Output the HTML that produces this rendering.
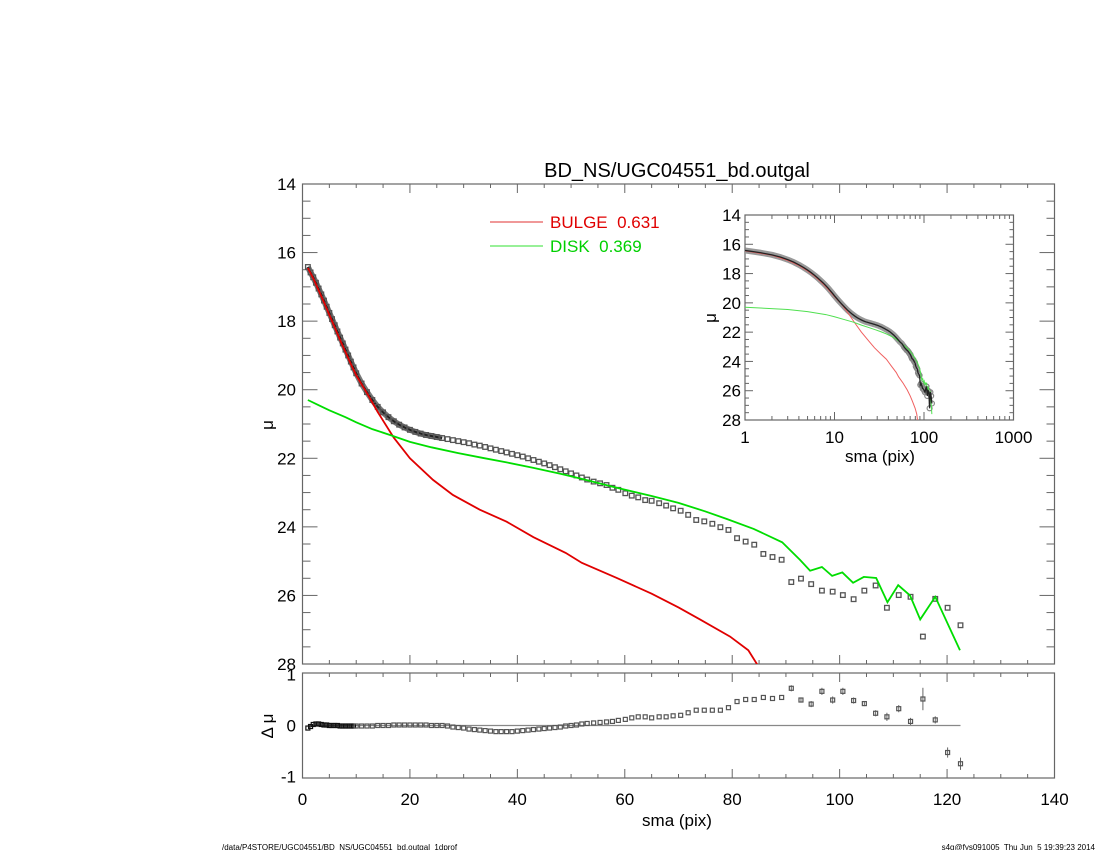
<!DOCTYPE html>
<html><head><meta charset="utf-8"><style>
body{margin:0;background:#fff;}
svg{display:block;font-family:"Liberation Sans",sans-serif;}
.pre{white-space:pre;}
</style></head><body>
<svg id="c" width="1100" height="850" viewBox="0 0 1100 850"></svg>
<script>
// ---- data ----
const dataSma=[1,1.5,2,2.5,3,3.5,4,4.5,5,5.5,6,6.5,7,7.5,8,8.5,9,9.5,10,11,12,13,14,15,16,17,18,19,20,21,22,23,24,25,26,27,28,29,30,31,32,33,34,35,36,37,38,39,40,41,42,43,44,45,46,47,48,49,50,51,52,53,54.2,
55.4,56.6,57.7,58.8,60.1,61.3,62.5,63.8,65.0,66.4,67.7,69.0,70.4,71.8,73.3,74.8,76.3,77.8,79.3,80.9,
82.5,84.1,85.8,87.5,89.2,91.0,92.8,94.7,96.7,98.7,100.6,102.6,104.6,106.7,108.8,111.0,113.2,115.5,117.8,120.1,122.5];
const dataMu=[16.42,16.58,16.72,16.88,17.05,17.22,17.4,17.58,17.76,17.94,18.12,18.3,18.48,18.65,18.83,19.0,19.18,19.35,19.52,19.82,20.07,20.3,20.5,20.66,20.8,20.92,21.02,21.1,21.17,21.23,21.28,21.32,21.35,21.38,21.41,21.44,21.47,21.5,21.53,21.56,21.6,21.63,21.67,21.71,21.75,21.79,21.83,21.87,21.91,21.95,22.0,22.05,22.1,22.15,22.2,22.26,22.32,22.38,22.44,22.5,22.56,22.62,22.68,
22.73,22.78,22.86,22.92,23.02,23.09,23.14,23.22,23.24,23.31,23.38,23.46,23.53,23.65,23.80,23.84,23.91,24.01,24.09,24.33,
24.43,24.52,24.79,24.88,24.96,25.61,25.51,25.67,25.86,25.89,25.99,26.11,25.86,25.71,26.36,25.99,26.04,27.20,26.10,26.36,26.87];
const resid=[-0.05,-0.02,0.02,0.03,0.03,0.02,0.01,0.01,0,0,0,0,-0.01,-0.01,-0.01,-0.01,-0.01,-0.01,-0.01,-0.01,-0.01,-0.01,0,0,0,0.01,0.01,0.01,0.01,0.01,0.01,0.01,0,0,0,-0.01,-0.03,-0.04,-0.05,-0.07,-0.08,-0.09,-0.1,-0.11,-0.12,-0.12,-0.12,-0.12,-0.11,-0.1,-0.09,-0.08,-0.07,-0.06,-0.05,-0.04,-0.03,-0.01,0,0.01,0.03,0.04,0.05,
0.06,0.07,0.08,0.1,0.12,0.15,0.17,0.17,0.15,0.17,0.17,0.19,0.2,0.25,0.3,0.3,0.3,0.3,0.35,0.47,
0.51,0.51,0.55,0.53,0.55,0.73,0.50,0.42,0.67,0.50,0.67,0.49,0.43,0.24,0.17,0.33,0.08,0.52,0.11,-0.53,-0.75];
const residErr=[0,0,0,0,0,0.06,0.05,0.06,0.07,0.07,0.07,0.06,0.05,0.06,0.08,0.07,0.07,0.22,0.07,0.1,0.12];
const bulgeSma=[1,2,3,4,5,6,7,8,9,10,12,14,17,20,24.3,28,33,38,43,49,52,58.5,65,70,74,79.6,83,85];
const bulgeMu=[16.45,16.75,17.1,17.45,17.82,18.18,18.55,18.9,19.25,19.58,20.1,20.65,21.4,22.0,22.63,23.07,23.5,23.85,24.3,24.76,25.05,25.49,25.95,26.35,26.7,27.2,27.6,28.1];
const diskSma=[1,3,5,8,10,13,16.3,20,24,29,33.6,38,43,48,52,58.5,65,70,75,79,84,89.3,92.6,94.5,96.7,98.6,100.5,102.5,104.5,106.8,108.9,110.9,113.1,115,117.8,122.4];
const diskMu=[20.3,20.45,20.6,20.8,20.95,21.15,21.32,21.52,21.68,21.85,21.99,22.12,22.28,22.45,22.6,22.86,23.1,23.3,23.55,23.77,24.06,24.45,24.96,25.28,25.17,25.43,25.33,25.63,25.46,25.49,26.2,25.7,26.0,26.7,26.04,27.6];
const xTicks=[0,20,40,60,80,100,120,140];
const yTicks=[14,16,18,20,22,24,26,28];
const resTicks=[1,0,-1];
const insetXTicks=[1,10,100,1000];
</script>
<script>
const svg=document.getElementById('c');
const NS='http://www.w3.org/2000/svg';
function mk(tag,attrs,parent){const e=document.createElementNS(NS,tag);for(const k in attrs)e.setAttribute(k,attrs[k]);(parent||svg).appendChild(e);return e;}
function txt(s,x,y,size,anchor,fill,parent){const t=mk('text',{x:x,y:y,'font-size':size,'text-anchor':anchor||'middle',fill:fill||'#000'},parent);t.textContent=s;return t;}
const X0=302.5,X1=1054.5;
const sx=v=>X0+(v-0)/140*(X1-X0);
const MT=184,MB=664;
const sy=v=>MT+(v-14)/14*(MB-MT);
const RT=673,RB=778;
const sr=v=>(RT+RB)/2-v*(RB-RT)/2.06;
const IL=745,IR=1013.5,IT=215,IB=420;
const ix=v=>IL+Math.log10(v)/3*(IR-IL);
const iy=v=>IT+(v-14)/14*(IB-IT);
const FR='#666';

let t=txt('BD_NS/UGC04551_bd.outgal',677,177,20);


let g=mk('g',{});

mk('rect',{x:X0,y:MT,width:X1-X0,height:MB-MT,fill:'none',stroke:FR,'stroke-width':1.2},g);
for(let v=0;v<=140;v+=5){const maj=v%20===0,L=maj?9:4;
 mk('line',{x1:sx(v),x2:sx(v),y1:MB,y2:MB-L,stroke:FR},g);mk('line',{x1:sx(v),x2:sx(v),y1:MT,y2:MT+L,stroke:FR},g);
 mk('line',{x1:sx(v),x2:sx(v),y1:RB,y2:RB-L,stroke:FR},g);mk('line',{x1:sx(v),x2:sx(v),y1:RT,y2:RT+L,stroke:FR},g);}
for(let v=14;v<=28.01;v+=0.5){const maj=Math.abs(v%2)<1e-6,L=maj?15:8;
 mk('line',{x1:X0,x2:X0+L,y1:sy(v),y2:sy(v),stroke:FR},g);mk('line',{x1:X1,x2:X1-L,y1:sy(v),y2:sy(v),stroke:FR},g);}
yTicks.forEach(v=>{const l=txt(String(v),296,sy(v)+6,17,'end');});
t=txt('μ',268,430,17);t.setAttribute('transform','rotate(-90 268 425)');


let lg=mk('g',{});

mk('line',{x1:490,x2:543,y1:222,y2:222,stroke:'#e03030','stroke-width':1},lg);
let le=txt('BULGE  0.631',550,228,17,'start','#e00000',lg);le.setAttribute('class','pre');

mk('line',{x1:490,x2:543,y1:246,y2:246,stroke:'#30e030','stroke-width':1},lg);
le=txt('DISK  0.369',550,252,17,'start','#00d000',lg);le.setAttribute('class','pre');


const clipM=mk('clipPath',{id:'cm'});mk('rect',{x:X0,y:MT,width:X1-X0,height:MB-MT},clipM);
let ds=mk('g',{'clip-path':'url(#cm)'});

const inner=dataSma.map((s,i)=>[s,dataMu[i]]).filter(p=>p[0]<=26);
let band=mk('polyline',{points:inner.map(p=>sx(p[0])+','+sy(p[1])).join(' '),fill:'none',stroke:'#777','stroke-width':6,'stroke-linejoin':'round'},ds);

mk('polyline',{points:inner.map(p=>sx(p[0])+','+sy(p[1])).join(' '),fill:'none',stroke:'#222','stroke-width':2},ds);
dataSma.forEach((s,i)=>{const r=mk('rect',{x:sx(s)-2.3,y:sy(dataMu[i])-2.3,width:4.6,height:4.6,fill:'none',stroke:'#555','stroke-width':1.3},ds);
 });
let bl=mk('polyline',{points:bulgeSma.map((s,i)=>sx(s)+','+sy(bulgeMu[i])).join(' '),fill:'none',stroke:'#e00000','stroke-width':1.8,'clip-path':'url(#cm)'});

let dl=mk('polyline',{points:diskSma.map((s,i)=>sx(s)+','+sy(diskMu[i])).join(' '),fill:'none',stroke:'#00dd00','stroke-width':1.8,'clip-path':'url(#cm)'});


let rp=mk('g',{});

mk('rect',{x:X0,y:RT,width:X1-X0,height:RB-RT,fill:'none',stroke:FR,'stroke-width':1.2},rp);
mk('line',{x1:sx(1),x2:sx(122.5),y1:sr(0),y2:sr(0),stroke:'#888','stroke-width':1.2},rp);
resTicks.forEach(v=>{const l=txt(String(v),296,sr(v)+6,17,'end',null,rp);});
t=txt('Δ μ',268,731,17);t.setAttribute('transform','rotate(-90 268 726)');t.setAttribute('class','pre');

const off=dataSma.length-residErr.length;
dataSma.forEach((s,i)=>{const e=i>=off?residErr[i-off]:0;
 if(e>0){const b=mk('line',{x1:sx(s),x2:sx(s),y1:sr(resid[i]-e),y2:sr(resid[i]+e),stroke:'#666','stroke-width':1},rp);
  }
 const r=mk('rect',{x:sx(s)-2,y:sr(resid[i])-2,width:4,height:4,fill:'none',stroke:s<10?'#111':'#555','stroke-width':1.2},rp);
 });
xTicks.forEach(v=>{const l=txt(String(v),sx(v),805,17);});
t=txt('sma (pix)',677,826,17);

let ig=mk('g',{});

mk('rect',{x:IL,y:IT,width:IR-IL,height:IB-IT,fill:'#fff',stroke:FR,'stroke-width':1.2},ig);
for(let d=0;d<3;d++)for(let k=1;k<=10;k++){const v=Math.pow(10,d)*k,L=(k===1||k===10)?8:4;
 mk('line',{x1:ix(v),x2:ix(v),y1:IB,y2:IB-L,stroke:FR},ig);mk('line',{x1:ix(v),x2:ix(v),y1:IT,y2:IT+L,stroke:FR},ig);}
for(let v=14;v<=28.01;v+=0.5){const maj=Math.abs(v%2)<1e-6,L=maj?8:4;
 mk('line',{x1:IL,x2:IL+L,y1:iy(v),y2:iy(v),stroke:FR},ig);mk('line',{x1:IR,x2:IR-L,y1:iy(v),y2:iy(v),stroke:FR},ig);}
yTicks.forEach(v=>{const l=txt(String(v),741,iy(v)+6,17,'end',null,ig);});
insetXTicks.forEach(v=>{const l=txt(String(v),ix(v),443,17,'middle',null,ig);});
t=txt('sma (pix)',880,462,17,'middle',null,ig);
t=txt('μ',711,323,17,'middle',null,ig);t.setAttribute('transform','rotate(-90 711 318)');

const clipI=mk('clipPath',{id:'ci'});mk('rect',{x:IL,y:IT,width:IR-IL,height:IB-IT},clipI);
let ids=mk('g',{'clip-path':'url(#ci)'},ig);

let iband=mk('polyline',{points:dataSma.filter(s=>s<80).map((s,i)=>ix(s)+','+iy(dataMu[i])).join(' '),fill:'none',stroke:'#999','stroke-width':6,'stroke-linejoin':'round'},ids);

dataSma.forEach((s,i)=>{if(s<60)return;const c=mk('circle',{cx:ix(s),cy:iy(dataMu[i]),r:2.5,fill:'none',stroke:'#888','stroke-width':1.2},ids);
 });
let ib=mk('polyline',{points:bulgeSma.map((s,i)=>ix(s)+','+iy(bulgeMu[i])).join(' '),fill:'none',stroke:'#f06060','stroke-width':1},ids);

let idk=mk('polyline',{points:diskSma.map((s,i)=>ix(s)+','+iy(diskMu[i])).join(' '),fill:'none',stroke:'#50e050','stroke-width':1},ids);

let idl=mk('polyline',{points:dataSma.map((s,i)=>ix(s)+','+iy(dataMu[i])).join(' '),fill:'none',stroke:'#222','stroke-width':1.3},ids);


t=txt('/data/P4STORE/UGC04551/BD_NS/UGC04551_bd.outgal_1dprof',222,850,8,'start');

t=txt('s4g@fys091005  Thu Jun  5 19:39:23 2014',1095,850,8,'end');t.setAttribute('class','pre');

</script>
</body></html>
